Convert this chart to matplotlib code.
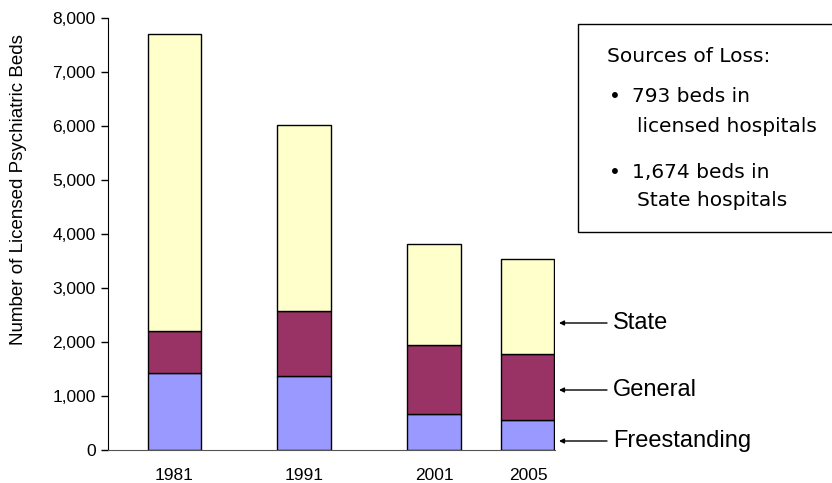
import matplotlib.pyplot as plt
from matplotlib.patches import Rectangle
from matplotlib.ticker import FuncFormatter

plt.rcParams['font.family'] = ['Liberation Sans', 'DejaVu Sans']

# licensed psychiatric beds by hospital type
years = ['1981', '1991', '2001', '2005']
freestanding = [1420, 1370, 667, 562]
general = [785, 1210, 1279, 1217]
state = [5495, 3440, 1871, 1760]

categories = ['State', 'General', 'Freestanding']
colors = ['#FFFFCC', '#993366', '#9999FF']

# bar centres (2001-2005 gap is narrower in the original)
xpos = [0, 1, 2, 2.723]
width = 0.408

W, H = 832, 483
fig = plt.figure(figsize=(W / 100, H / 100), dpi=100)
ax = fig.add_axes([108 / W, 33 / H, 447 / W, 432 / H])

bottom2 = [f + g for f, g in zip(freestanding, general)]
ax.bar(xpos, freestanding, width, color=colors[2], edgecolor='black', linewidth=1)
ax.bar(xpos, general, width, bottom=freestanding, color=colors[1], edgecolor='black', linewidth=1)
ax.bar(xpos, state, width, bottom=bottom2, color=colors[0], edgecolor='black', linewidth=1)

ax.set_xlim(-0.508, 2.931)
ax.set_ylim(0, 8000)
ax.set_yticks(range(0, 8001, 1000))
ax.yaxis.set_major_formatter(FuncFormatter(lambda v, p: f'{v:,.0f}'))
ax.set_xticks(xpos)
ax.set_xticklabels(years)
ax.tick_params(axis='x', length=0, pad=13, labelsize=12.5)
ax.tick_params(axis='y', length=5, width=1, pad=4, labelsize=12.5)
for s in ['top', 'right']:
    ax.spines[s].set_visible(False)
ax.spines['bottom'].set_color('#555555')
ax.set_ylabel('Number of Licensed Psychiatric Beds', fontsize=13.5)
ax.yaxis.set_label_coords(-0.182, 0.602)

# arrow labels on the right
label_y = [323, 390, 441]
for name, yy in zip(categories, label_y):
    ax.annotate('', xy=(559, H - yy), xytext=(607, H - yy), xycoords='figure pixels',
                textcoords='figure pixels',
                arrowprops=dict(arrowstyle='-|>', color='black', lw=1, mutation_scale=7,
                                shrinkA=0, shrinkB=0))
    fig.text(613 / W, (H - yy) / H, name, fontsize=17, va='center', ha='left')

# sources of loss box
fig.patches.append(Rectangle((578 / W, (H - 232) / H), 300 / W, 208 / H,
                             transform=fig.transFigure, facecolor='white',
                             edgecolor='black', linewidth=1))
box_font = 'DejaVu Sans'
fs = 14.5
fig.text(607 / W, (H - 57) / H, 'Sources of Loss:', fontsize=fs, family=box_font, va='center')
fig.text(609 / W, (H - 96) / H, '•', fontsize=fs, family=box_font, va='center')
fig.text(632 / W, (H - 96) / H, '793 beds in', fontsize=fs, family=box_font, va='center')
fig.text(637 / W, (H - 127) / H, 'licensed hospitals', fontsize=fs, family=box_font, va='center')
fig.text(609 / W, (H - 172) / H, '•', fontsize=fs, family=box_font, va='center')
fig.text(632 / W, (H - 172) / H, '1,674 beds in', fontsize=fs, family=box_font, va='center')
fig.text(637 / W, (H - 200) / H, 'State hospitals', fontsize=fs, family=box_font, va='center')

fig.savefig('out.png', dpi=100)
